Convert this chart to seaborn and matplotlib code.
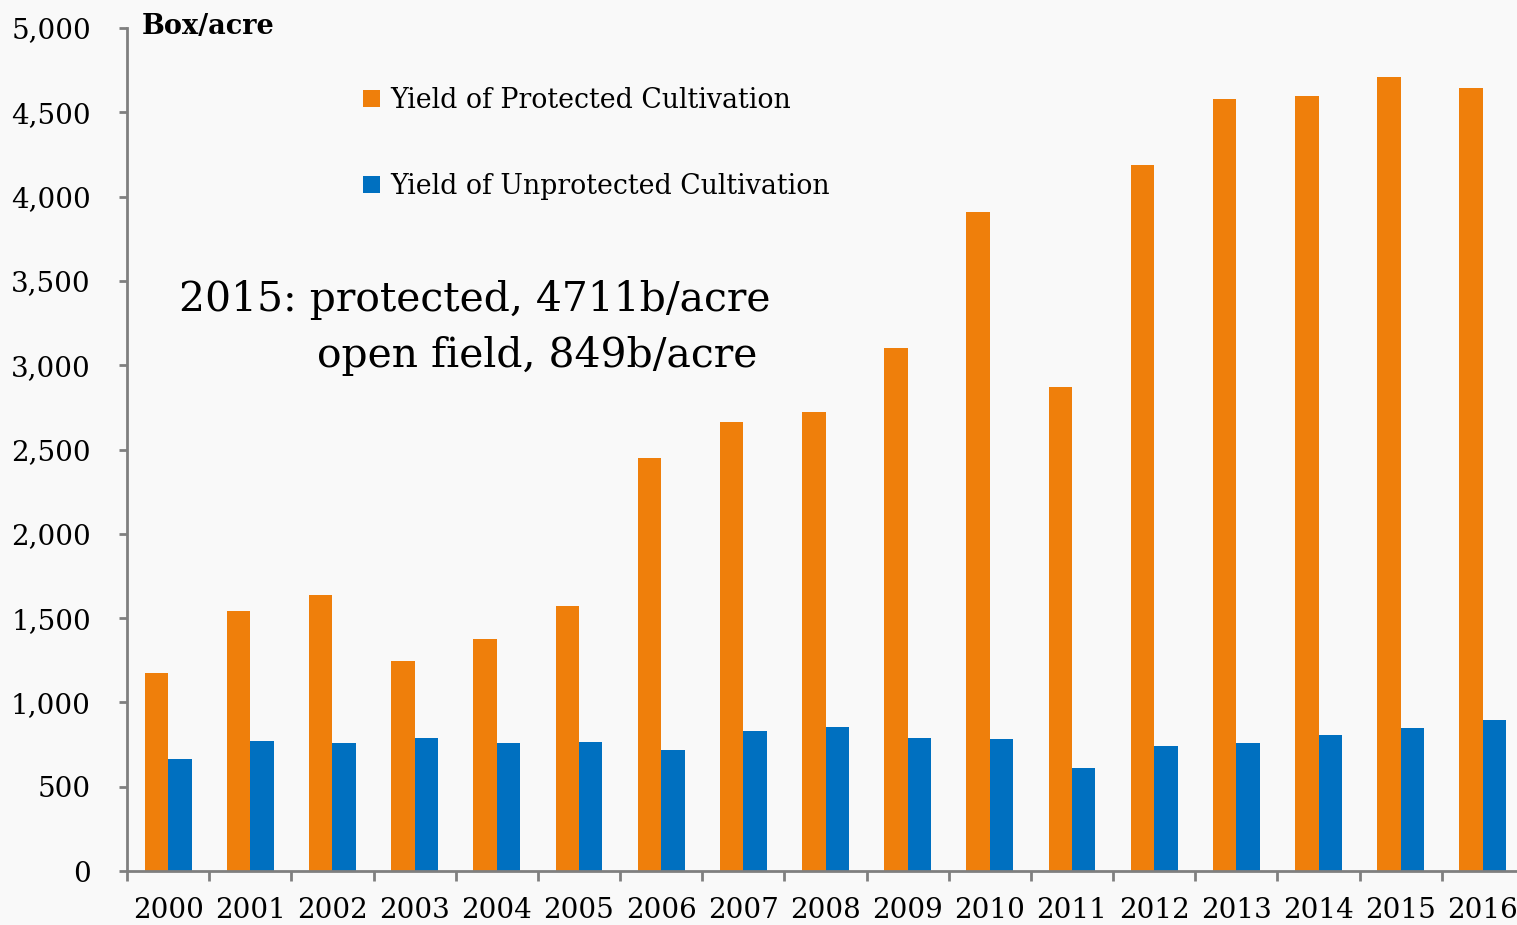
import matplotlib
matplotlib.use("Agg")
import matplotlib.pyplot as plt
import seaborn as sns
import pandas as pd
from matplotlib.ticker import FuncFormatter, FixedLocator
from matplotlib.patches import Patch

years = [str(y) for y in range(2000, 2017)]
protected = [1174, 1542, 1637, 1246, 1376, 1572, 2450, 2663, 2722, 3102,
             3909, 2871, 4187, 4579, 4597, 4711, 4644]
unprotected = [664, 771, 759, 789, 759, 765, 718, 830, 854, 789,
               783, 611, 741, 759, 807, 849, 896]
series_names = ["Yield of Protected Cultivation", "Yield of Unprotected Cultivation"]
colors = ["#EF7F0B", "#0070C0"]

df = pd.DataFrame({
    "year": years * 2,
    "value": protected + unprotected,
    "series": [series_names[0]] * len(years) + [series_names[1]] * len(years),
})

sns.set_theme(style="white")
plt.rcParams["font.family"] = ["DejaVu Serif"]
plt.rcParams["text.color"] = "black"

W, H = 1517, 925
fig = plt.figure(figsize=(W / 100, H / 100), dpi=100)
fig.patch.set_facecolor("#f9f9f9")
ax = fig.add_axes([127 / W, 1 - 871 / H, (1524 - 127) / W, (871 - 28) / H])
ax.set_facecolor("#f9f9f9")

sns.barplot(data=df, x="year", y="value", hue="series", hue_order=series_names,
            palette=colors, width=0.57, gap=0, saturation=1, linewidth=0,
            ax=ax, legend=False)

ax.set_xlim(-0.5, len(years) - 0.5)
ax.set_ylim(0, 5000)
ax.set_yticks(range(0, 5001, 500))
ax.yaxis.set_major_formatter(FuncFormatter(lambda v, p: f"{int(v):,}"))
ax.set_xlabel("")
ax.set_ylabel("")

for s in ["top", "right"]:
    ax.spines[s].set_visible(False)
for s in ["left", "bottom"]:
    ax.spines[s].set_color("#7f7f7f")
    ax.spines[s].set_linewidth(2)

# category boundaries carry the tick marks, labels sit at bar-group centres
ax.xaxis.set_minor_locator(FixedLocator([i - 0.5 for i in range(len(years) + 1)]))
ax.tick_params(axis="x", which="major", length=0, pad=19, labelsize=20, labelcolor="black")
ax.tick_params(axis="x", which="minor", length=7, width=2, color="#7f7f7f", direction="out", bottom=True)
ax.tick_params(axis="y", which="major", length=6, width=2, color="#7f7f7f", direction="out",
               left=True, pad=20, labelsize=20, labelcolor="black")

fig.text(142 / W, 1 - 27 / H, "Box/acre", fontsize=19.5, fontweight="bold",
         ha="left", va="center", color="black")

handles = [Patch(facecolor=c, edgecolor="none") for c in colors]
leg = fig.legend(handles, series_names, loc="upper left",
                 bbox_to_anchor=(363 / W, 1 - 87 / H), frameon=False,
                 fontsize=19.3, handlelength=0.62, handleheight=0.62, handletextpad=0.38,
                 labelspacing=2.2, borderpad=0, borderaxespad=0)
for t in leg.get_texts():
    t.set_color("black")

fig.text(179 / W, 1 - 300 / H, "2015: protected, 4711b/acre", fontsize=29.4,
         ha="left", va="center", color="black")
fig.text(317 / W, 1 - 356 / H, "open field, 849b/acre", fontsize=29.4,
         ha="left", va="center", color="black")

fig.savefig("out.png", dpi=100, facecolor=fig.get_facecolor())
